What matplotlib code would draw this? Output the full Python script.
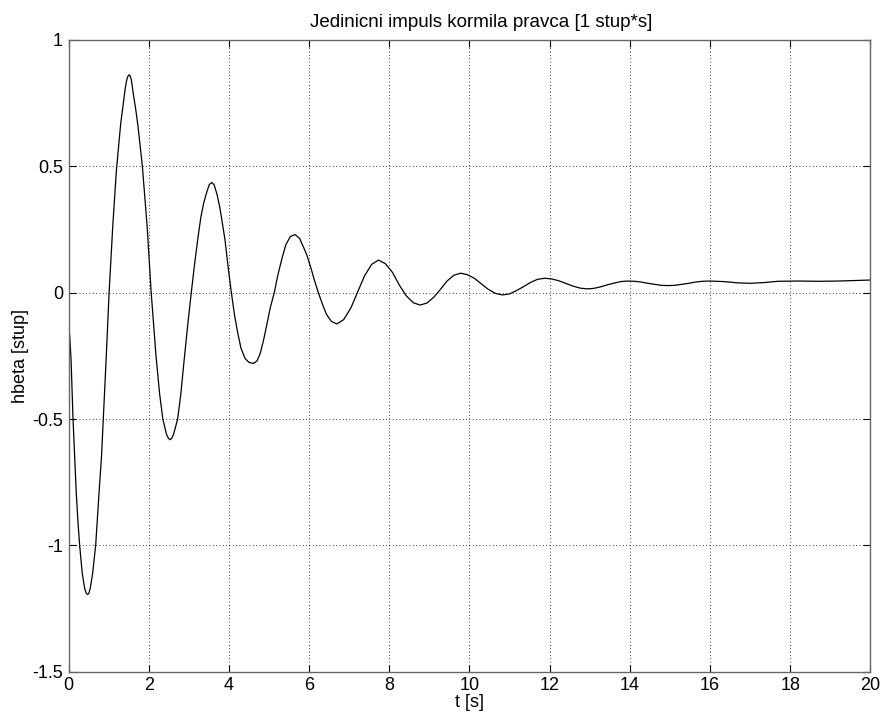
import matplotlib
matplotlib.use("Agg")
import matplotlib.pyplot as plt

# impulse response: time [s] and hbeta [stup]
t = [0.00, 0.03, 0.06, 0.11, 0.15, 0.19, 0.23, 0.275, 0.34, 0.40, 0.435, 0.47, 0.505,
     0.54, 0.60, 0.675, 0.76, 0.82, 0.865, 0.94, 1.01, 1.10, 1.19, 1.30, 1.41, 1.435, 1.46,
     1.485, 1.51, 1.535,
     1.56, 1.585, 1.61, 1.67, 1.73, 1.84, 1.96, 2.06, 2.18, 2.27, 2.35, 2.44, 2.49, 2.53,
     2.57, 2.62, 2.72, 2.80, 2.88, 2.97, 3.06, 3.14, 3.22, 3.30, 3.37, 3.45, 3.51, 3.57,
     3.63, 3.70, 3.77, 3.84, 3.90, 3.98, 4.06, 4.14, 4.22, 4.30, 4.40, 4.50, 4.61,
     4.70, 4.78, 4.86, 4.94, 5.03, 5.13, 5.22, 5.33, 5.42, 5.53, 5.65,
     5.76, 5.86, 5.94, 6.04, 6.13, 6.23, 6.33, 6.43, 6.55, 6.69,
     6.86, 7.04, 7.21, 7.38, 7.56, 7.73,
     7.90, 8.08, 8.25, 8.42, 8.60, 8.77,
     8.94, 9.11, 9.28, 9.44, 9.61, 9.78,
     9.95, 10.13, 10.30, 10.47, 10.65, 10.82,
     11.00, 11.17, 11.35, 11.53, 11.70, 11.88,
     12.06, 12.23, 12.41, 12.58, 12.76, 12.93,
     13.10, 13.27, 13.44, 13.61, 13.78, 13.95,
     14.12, 14.28, 14.45, 14.62, 14.78, 14.95,
     15.12, 15.29, 15.47, 15.64, 15.81, 15.98,
     16.32, 16.49, 16.66, 17.00, 17.35, 17.70, 18.20, 18.70, 19.20, 19.60, 20.00]
hbeta = [-0.11, -0.18, -0.26, -0.50, -0.65, -0.79, -0.90, -1.00, -1.11, -1.17, -1.188, -1.195, -1.19,
         -1.17, -1.11, -1.00, -0.79, -0.65, -0.50, -0.25, 0.00, 0.26, 0.48, 0.67, 0.805, 0.83, 0.848,
         0.858, 0.862, 0.858,
         0.845, 0.82, 0.79, 0.73, 0.66, 0.50, 0.26, 0.00, -0.25, -0.40, -0.50, -0.56, -0.576, -0.582,
         -0.577, -0.56, -0.50, -0.40, -0.27, -0.13, 0.00, 0.11, 0.21, 0.30, 0.355, 0.40, 0.428, 0.436,
         0.427, 0.39, 0.34, 0.27, 0.21, 0.10, 0.00, -0.09, -0.16, -0.22, -0.26, -0.276, -0.280,
         -0.27, -0.24, -0.19, -0.13, -0.06, 0.00, 0.07, 0.14, 0.19, 0.222, 0.230,
         0.215, 0.18, 0.15, 0.10, 0.05, 0.00, -0.045, -0.085, -0.113, -0.124,
         -0.107, -0.061, 0.003, 0.066, 0.112, 0.129,
         0.115, 0.080, 0.030, -0.012, -0.040, -0.049,
         -0.041, -0.018, 0.014, 0.046, 0.069, 0.077,
         0.071, 0.056, 0.034, 0.013, -0.003, -0.009,
         -0.005, 0.008, 0.024, 0.041, 0.053, 0.057,
         0.054, 0.047, 0.036, 0.026, 0.018, 0.015,
         0.017, 0.023, 0.031, 0.038, 0.044, 0.046,
         0.045, 0.042, 0.037, 0.033, 0.029, 0.028,
         0.029, 0.033, 0.037, 0.042, 0.045, 0.046,
         0.044, 0.042, 0.039, 0.037, 0.040, 0.045, 0.046, 0.045, 0.046, 0.048, 0.050]

xticks = list(range(0, 21, 2))
yticks = [-1.5, -1, -0.5, 0, 0.5, 1]
ytick_labels = ["-1.5", "-1", "-0.5", "0", "0.5", "1"]

plt.rcParams["font.family"] = ["Liberation Sans", "DejaVu Sans"]

fig = plt.figure(figsize=(8.83, 7.19), dpi=100)
ax = fig.add_axes([0.0777, 0.0658, 0.908, 0.8786])

ax.plot(t, hbeta, color="black", lw=0.9)

ax.set_xlim(0, 20)
ax.set_ylim(-1.5, 1)
ax.set_xticks(xticks)
ax.set_xticklabels([str(v) for v in xticks])
ax.set_yticks(yticks)
ax.set_yticklabels(ytick_labels)

ax.grid(True, linestyle=(0, (1, 3)), color="black", lw=0.6)
ax.tick_params(direction="in", top=True, right=True, length=5, width=0.8,
               labelsize=13, pad=4)
for sp in ax.spines.values():
    sp.set_color("#666666")
    sp.set_linewidth(1.0)

ax.set_title("Jedinicni impuls kormila pravca [1 stup*s]", fontsize=13.5, pad=9)
ax.title.set_x(0.515)
ax.set_xlabel("t [s]", fontsize=13, labelpad=0)
ax.set_ylabel("hbeta [stup]", fontsize=13, labelpad=2)

fig.savefig("out.png", dpi=100)
plt.close(fig)
